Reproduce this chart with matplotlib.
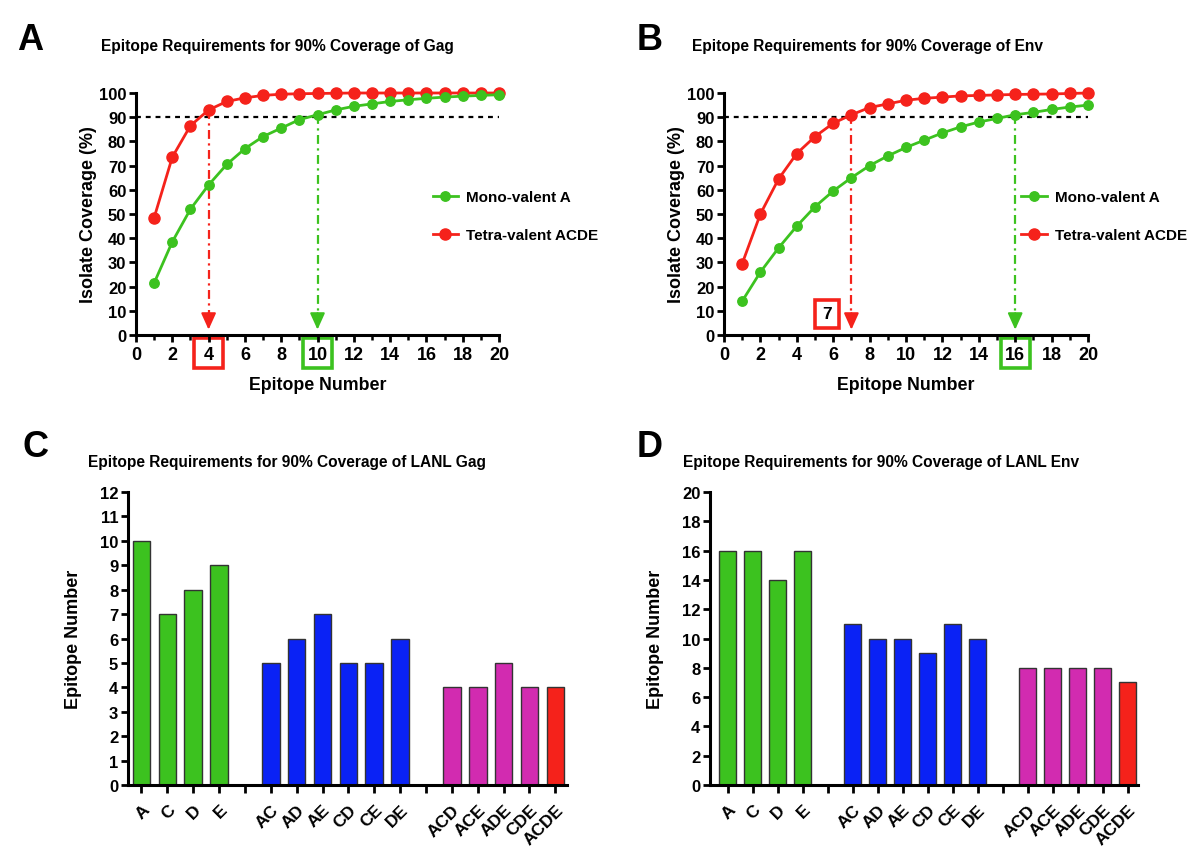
#!/usr/bin/env python3
"""Epitope coverage curves (A, B) and LANL epitope requirement bars (C, D)."""

import matplotlib
matplotlib.use("Agg")
import matplotlib.pyplot as plt
from matplotlib.lines import Line2D
from matplotlib.patches import Rectangle
from matplotlib.ticker import MultipleLocator

plt.rcParams["font.family"] = ["Liberation Sans", "DejaVu Sans"]
plt.rcParams["font.weight"] = "bold"
plt.rcParams["axes.labelweight"] = "bold"

GREEN = "#3cc21f"
RED = "#f5221b"
BLUE = "#0a22f5"
MAGENTA = "#d22bb0"

# Coverage curves
EPITOPES = list(range(1, 21))
GAG_MONO = [21.5, 38.5, 52, 62, 70.5, 77, 82, 85.5, 89, 91,
            93, 94.5, 95.5, 96.5, 97.2, 97.8, 98.3, 98.7, 99, 99.3]
GAG_TETRA = [48.5, 73.5, 86.5, 93, 96.5, 98, 99, 99.5, 99.7, 99.8,
             99.9, 100, 100, 100, 100, 100, 100, 100, 100, 100]
ENV_MONO = [14, 26, 36, 45, 53, 59.5, 65, 70, 74, 77.5,
            80.5, 83.5, 86, 88, 89.5, 91, 92, 93.2, 94.2, 95]
ENV_TETRA = [29.5, 50, 64.5, 75, 82, 87.5, 91, 94, 95.5, 97,
             97.8, 98.3, 98.8, 99, 99.2, 99.4, 99.5, 99.6, 99.8, 100]
THRESHOLD = 90
# (epitope number reached, coverage there) for mono / tetra
GAG_HITS = {"mono": (10, 91), "tetra": (4, 93)}
ENV_HITS = {"mono": (16, 91), "tetra": (7, 91)}

# Bar charts
GROUPS = [["A", "C", "D", "E"],
          ["AC", "AD", "AE", "CD", "CE", "DE"],
          ["ACD", "ACE", "ADE", "CDE", "ACDE"]]
LANL_GAG = [[10, 7, 8, 9], [5, 6, 7, 5, 5, 6], [4, 4, 5, 4, 4]]
LANL_ENV = [[16, 16, 14, 16], [11, 10, 10, 9, 11, 10], [8, 8, 8, 8, 7]]
GROUP_COLORS = [GREEN, BLUE, MAGENTA]

W, H = 1200, 862


def px_axes(fig, left, right, bottom, top):
    return fig.add_axes([left / W, 1 - bottom / H, (right - left) / W, (bottom - top) / H])


def prism_style(ax):
    for side in ("top", "right"):
        ax.spines[side].set_visible(False)
    for side in ("left", "bottom"):
        ax.spines[side].set_linewidth(2.2)
    ax.tick_params(which="major", direction="out", length=5, width=2, labelsize=12, pad=2)
    ax.tick_params(which="minor", direction="out", length=3.5, width=1.8)


def curve_panel(fig, ax, mono, tetra, hits, boxed_tick_in_axes):
    prism_style(ax)
    ax.plot(EPITOPES, mono, color=GREEN, lw=2, marker="o", ms=6.8, mec=GREEN, clip_on=False, zorder=4)
    ax.plot(EPITOPES, tetra, color=RED, lw=2, marker="o", ms=8, mec=RED, clip_on=False, zorder=3)
    ax.axhline(THRESHOLD, color="black", ls=(0, (2.2, 2.2)), lw=1.6, zorder=2)
    ax.set_xlim(0, 20)
    ax.set_ylim(0, 100)
    ax.xaxis.set_major_locator(MultipleLocator(2))
    ax.xaxis.set_minor_locator(MultipleLocator(1))
    ax.yaxis.set_major_locator(MultipleLocator(10))
    ax.tick_params(axis="x", which="major", labelsize=13, pad=3)
    ax.set_xlabel("Epitope Number", fontsize=12.8, labelpad=9)
    ax.set_ylabel("Isolate Coverage (%)", fontsize=13, labelpad=1)

    for key, color in (("tetra", RED), ("mono", GREEN)):
        x, y = hits[key]
        ax.plot([x, x], [y, 8], color=color, lw=1.6, ls=(0, (4, 2, 1, 2)), zorder=2)
        ax.annotate("", xy=(x, 2.2), xytext=(x, 9),
                    arrowprops=dict(arrowstyle="-|>,head_length=1.0,head_width=0.45",
                                    color=color, lw=1.5, shrinkA=0, shrinkB=0))

    trans = ax.get_xaxis_transform()
    for key, color in (("tetra", RED), ("mono", GREEN)):
        x = hits[key][0]
        if key == "tetra" and boxed_tick_in_axes:
            # label box drawn inside the axes, left of the arrow
            ax.text(5.66, 8.7, str(x), ha="center", va="center", fontsize=12.5,
                    bbox=dict(boxstyle="square,pad=0.4", fc="white", ec=RED, lw=2.6))
            continue
        ax.add_patch(Rectangle((x - 0.8, -0.135), 1.6, 0.122, transform=trans,
                               fill=False, ec=color, lw=2.6, clip_on=False))

    handles = [Line2D([], [], color=GREEN, lw=2, marker="o", ms=6.8),
               Line2D([], [], color=RED, lw=2, marker="o", ms=8)]
    ax.legend(handles, ["Mono-valent A", "Tetra-valent ACDE"], loc="upper left",
              bbox_to_anchor=(0.80, 0.625), frameon=False, fontsize=11,
              handlelength=1.7, handletextpad=0.5, labelspacing=1.6, borderaxespad=0)


def bar_panel(ax, values, ymax, step):
    prism_style(ax)
    pos, labels, heights, colors, gaps = [], [], [], [], []
    p = 0
    for gi, (names, vals) in enumerate(zip(GROUPS, values)):
        if gi > 0:
            gaps.append(p)
            p += 1
        for n, v in zip(names, vals):
            pos.append(p)
            labels.append(n)
            heights.append(v)
            colors.append(GROUP_COLORS[gi])
            p += 1
    colors[-1] = RED
    ax.bar(pos, heights, width=0.68, color=colors, edgecolor="#333333", linewidth=1)
    ticks = sorted(pos + gaps)
    ax.set_xticks(ticks)
    ax.set_xticklabels([labels[pos.index(t)] if t in pos else "" for t in ticks],
                       rotation=45, ha="right", rotation_mode="anchor", fontsize=12.5)
    ax.tick_params(axis="x", length=6, pad=6)
    ax.set_ylim(0, ymax)
    ax.yaxis.set_major_locator(MultipleLocator(step))
    ax.set_ylabel("Epitope Number", fontsize=13, labelpad=13)


fig = plt.figure(figsize=(W / 100, H / 100), dpi=100)

ax_a = px_axes(fig, 136, 499, 336, 94)
curve_panel(fig, ax_a, GAG_MONO, GAG_TETRA, GAG_HITS, False)
ax_b = px_axes(fig, 724, 1088, 336, 94)
curve_panel(fig, ax_b, ENV_MONO, ENV_TETRA, ENV_HITS, True)

ax_c = px_axes(fig, 128, 567, 786, 493)
bar_panel(ax_c, LANL_GAG, 12, 1)
ax_c.set_xlim(-0.52, 16.45)
ax_d = px_axes(fig, 710, 1138, 786, 493)
bar_panel(ax_d, LANL_ENV, 20, 2)
ax_d.set_xlim(-0.7, 16.42)

titles = [
    (277, 47, "Epitope Requirements for 90% Coverage of Gag"),
    (867, 47, "Epitope Requirements for 90% Coverage of Env"),
    (287, 463, "Epitope Requirements for 90% Coverage of LANL Gag"),
    (881, 463, "Epitope Requirements for 90% Coverage of LANL Env"),
]
for x, y, t in titles:
    fig.text(x / W, 1 - y / H, t, ha="center", va="center", fontsize=11.2)

for x, y, letter in [(17, 50, "A"), (637, 50, "B"), (22, 457, "C"), (637, 457, "D")]:
    fig.text(x / W, 1 - y / H, letter, ha="left", va="baseline", fontsize=26)

fig.savefig("out.png", dpi=100)
